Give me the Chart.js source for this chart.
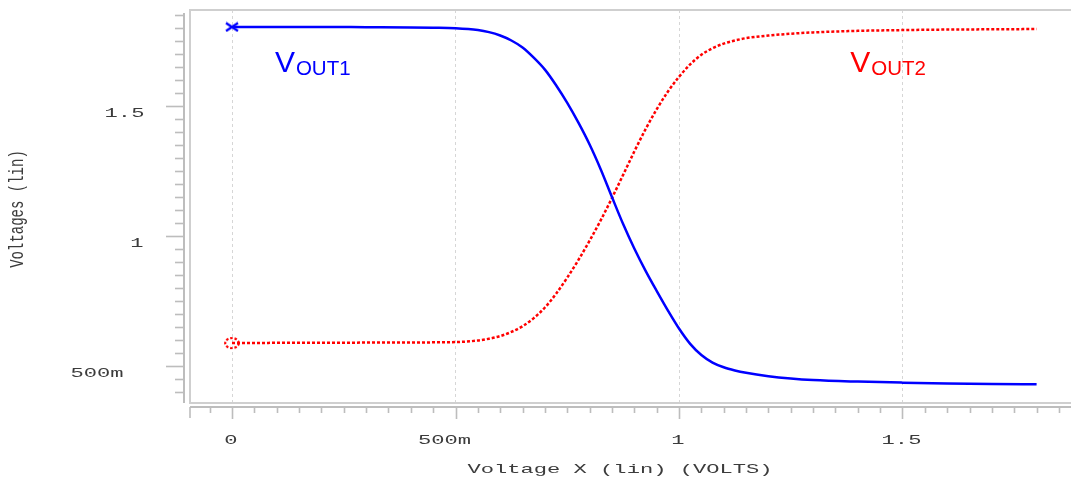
<!DOCTYPE html>
<html><head><meta charset="utf-8">
<script src="https://cdn.jsdelivr.net/npm/chart.js@4.4.1/dist/chart.umd.min.js"></script>
<style>html,body{margin:0;padding:0;background:#fff;overflow:hidden}#wrap{width:1071px;height:481px;position:relative}</style>
</head><body><div id="wrap"><canvas id="c" width="1071" height="481"></canvas></div>
<script>
// ---- data ----
const sweepVolts = [0, 0.1, 0.2, 0.3, 0.4, 0.45, 0.5, 0.55, 0.575, 0.6, 0.625, 0.65, 0.675, 0.7, 0.725, 0.75, 0.775, 0.8, 0.825, 0.85, 0.875, 0.9, 0.925, 0.95, 0.975, 1.0, 1.025, 1.05, 1.075, 1.1, 1.125, 1.15, 1.2, 1.25, 1.3, 1.4, 1.5, 1.6, 1.7, 1.8];
const vout1 = [1.804, 1.804, 1.804, 1.803, 1.802, 1.801, 1.799, 1.792, 1.784, 1.771, 1.752, 1.725, 1.686, 1.640, 1.580, 1.512, 1.436, 1.352, 1.256, 1.150, 1.046, 0.952, 0.867, 0.789, 0.714, 0.644, 0.585, 0.542, 0.513, 0.495, 0.483, 0.474, 0.461, 0.452, 0.446, 0.440, 0.436, 0.433, 0.431, 0.430];
const vout2 = [0.588, 0.589, 0.589, 0.590, 0.590, 0.591, 0.592, 0.598, 0.605, 0.615, 0.631, 0.653, 0.684, 0.725, 0.778, 0.840, 0.908, 0.982, 1.061, 1.146, 1.235, 1.325, 1.410, 1.487, 1.555, 1.612, 1.660, 1.697, 1.722, 1.740, 1.752, 1.761, 1.771, 1.778, 1.783, 1.789, 1.792, 1.794, 1.795, 1.796];
const xTickValues = [0, 0.5, 1, 1.5];
const xTickLabels = ['0', '500m', '1', '1.5'];
const yTickValues = [0.5, 1, 1.5];
const yTickLabels = ['500m', '1', '1.5'];
const seriesNames = ['OUT1', 'OUT2'];
const xTitle = 'Voltage X (lin) (VOLTS)';
const yTitle = 'Voltages (lin)';

// ---- markers ----
function makeCross() {
  const c = document.createElement('canvas'); c.width = 16; c.height = 11;
  const g = c.getContext('2d');
  g.strokeStyle = '#0000ff'; g.lineWidth = 2.4;
  g.beginPath(); g.moveTo(2, 1.5); g.lineTo(14, 9.5); g.moveTo(14, 1.5); g.lineTo(2, 9.5); g.stroke();
  return c;
}
function makeRing() {
  const c = document.createElement('canvas'); c.width = 18; c.height = 14;
  const g = c.getContext('2d');
  g.strokeStyle = '#ff0000'; g.lineWidth = 2.2; g.setLineDash([2.5, 1.8]);
  g.beginPath(); g.ellipse(9, 7, 6.8, 5, 0, 0, Math.PI * 2); g.stroke();
  return c;
}
const crossImg = makeCross(), ringImg = makeRing();

const TEXT_COL = '#3c3c3c';
const SX = 1.7; // horizontal stretch of the reference's text
function stretchedText(ctx, txt, x, y, align) {
  ctx.save();
  ctx.scale(SX, 1);
  ctx.textAlign = align; ctx.textBaseline = 'middle';
  ctx.fillText(txt, x / SX, y);
  ctx.restore();
}

const deco = {
  id: 'deco',
  beforeDatasetsDraw(chart) {
    const { ctx, chartArea: a, scales: { x, y } } = chart;
    const W = chart.width;
    const L = x.getPixelForValue(x.min), T = y.getPixelForValue(y.max), B = y.getPixelForValue(y.min);
    ctx.save();
    // plot frame (top/left/bottom)
    ctx.strokeStyle = '#cfcfcf'; ctx.lineWidth = 2;
    ctx.beginPath();
    ctx.moveTo(W, T); ctx.lineTo(L, T); ctx.lineTo(L, B); ctx.lineTo(W, B);
    ctx.stroke();
    // y axis rail + ticks
    const yx = L - 6;
    ctx.strokeStyle = '#bdbdbd'; ctx.lineWidth = 2;
    ctx.beginPath(); ctx.moveTo(yx, T + 3); ctx.lineTo(yx, B); ctx.stroke();
    ctx.lineWidth = 1.6;
    for (let i = Math.ceil(y.min * 20 - 1e-6); i <= Math.floor(y.max * 20 + 1e-6); i++) {
      const v = i / 20, py = Math.round(y.getPixelForValue(v)) + 0.5;
      const major = i % 10 === 0;
      ctx.beginPath(); ctx.moveTo(yx, py); ctx.lineTo(yx - (major ? 18 : 9), py); ctx.stroke();
    }
    // x axis rail + ticks
    const xy = B + 4;
    ctx.lineWidth = 2;
    ctx.beginPath(); ctx.moveTo(L, xy); ctx.lineTo(W, xy); ctx.stroke();
    ctx.lineWidth = 1.6;
    ctx.beginPath(); ctx.moveTo(L, xy); ctx.lineTo(L, xy + 11); ctx.stroke();
    for (let i = Math.ceil(x.min * 20 - 1e-6); i <= Math.floor(x.max * 20 + 1e-6); i++) {
      const v = i / 20, px = Math.round(x.getPixelForValue(v)) + 0.5;
      const major = i % 10 === 0;
      ctx.beginPath(); ctx.moveTo(px, xy); ctx.lineTo(px, xy + (major ? 12 : 6)); ctx.stroke();
    }
    // tick labels
    ctx.fillStyle = TEXT_COL; ctx.font = '13px "Liberation Mono"';
    const xShift = { '500m': -10 };
    xTickValues.forEach((v, i) => {
      const t = xTickLabels[i];
      stretchedText(ctx, t, x.getPixelForValue(v) + (xShift[t] || 0) - 1, B + 38, 'center');
    });
    const yCenters = { '500m': 97, '1': 137, '1.5': 124.5 };
    yTickValues.forEach((v, i) => {
      const t = yTickLabels[i];
      stretchedText(ctx, t, yCenters[t], y.getPixelForValue(v) + 8, 'center');
    });
    // axis titles
    stretchedText(ctx, xTitle, 620, 470, 'center');
    ctx.save();
    ctx.translate(18, 209); ctx.rotate(-Math.PI / 2); ctx.scale(1, 1.4);
    ctx.font = '14px "Liberation Mono"'; ctx.textAlign = 'center'; ctx.textBaseline = 'middle';
    ctx.fillText(yTitle, 0, 0);
    ctx.restore();
    ctx.restore();
  },
  afterDatasetsDraw(chart) {
    const { ctx, scales: { x, y } } = chart;
    const anchors = [{ v: 0.096, col: '#0000ff' }, { v: 1.383, col: '#ff0000' }];
    ctx.save();
    ctx.textBaseline = 'alphabetic'; ctx.textAlign = 'left';
    seriesNames.forEach((s, i) => {
      const px = x.getPixelForValue(anchors[i].v), py = y.getPixelForValue(1.631);
      ctx.fillStyle = anchors[i].col;
      ctx.font = '30px "Liberation Sans"';
      ctx.fillText('V', px, py);
      const w = ctx.measureText('V').width;
      ctx.font = '20.5px "Liberation Sans"';
      ctx.fillText(s, px + w + 1, py + 3);
    });
    ctx.restore();
  }
};

const pts = arr => sweepVolts.map((v, i) => ({ x: v, y: arr[i] }));
const zeroPad = s => { s.paddingLeft = 0; s.paddingRight = 0; s.paddingTop = 0; s.paddingBottom = 0; };

const chart = new Chart(document.getElementById('c'), {
  type: 'scatter',
  data: {
    datasets: [
      { label: 'V' + seriesNames[0], data: pts(vout1), showLine: true, borderColor: '#0000ff', borderWidth: 2.5,
        cubicInterpolationMode: 'monotone',
        pointRadius: c => c.dataIndex === 0 ? 6 : 0, pointStyle: c => c.dataIndex === 0 ? crossImg : 'circle' },
      { label: 'V' + seriesNames[1], data: pts(vout2), showLine: true, borderColor: '#ff0000', borderWidth: 2.5,
        borderDash: [3, 2], borderCapStyle: 'butt', cubicInterpolationMode: 'monotone',
        pointRadius: c => c.dataIndex === 0 ? 6 : 0, pointStyle: c => c.dataIndex === 0 ? ringImg : 'circle' }
    ]
  },
  options: {
    responsive: false, devicePixelRatio: 1, animation: false,
    layout: { padding: { left: 190, top: 10, right: 0, bottom: 78 } },
    plugins: { legend: { display: false }, tooltip: { enabled: false } },
    scales: {
      x: {
        type: 'linear', min: -0.094, max: 1.877,
        afterBuildTicks: s => { s.ticks = xTickValues.map(v => ({ value: v })); },
        afterFit: s => { s.height = 0; zeroPad(s); },
        ticks: { display: false },
        grid: { color: '#d6d6d6', lineWidth: 1, drawTicks: false },
        border: { display: false, dash: [3, 3] }
      },
      y: {
        type: 'linear', min: 0.358, max: 1.869,
        afterFit: s => { s.width = 0; zeroPad(s); },
        ticks: { display: false },
        grid: { display: false },
        border: { display: false }
      }
    }
  },
  plugins: [deco]
});
// calibrate the axis ranges to the reference's scale (0 V at x=232, 447 px per volt;
// 1.5 V at y=106, 260 px per volt) over whatever pixel span Chart.js gave the scales
(function calibrate() {
  const x = chart.scales.x, y = chart.scales.y;
  const xl = x.getPixelForValue(x.min), xr = x.getPixelForValue(x.max);
  const yb = y.getPixelForValue(y.min), yt = y.getPixelForValue(y.max);
  chart.options.scales.x.min = (xl - 232) / 447;
  chart.options.scales.x.max = (xr - 232) / 447;
  chart.options.scales.y.min = 1.5 - (yb - 106) / 260;
  chart.options.scales.y.max = 1.5 - (yt - 106) / 260;
  chart.update('none');
})();
</script></body></html>
